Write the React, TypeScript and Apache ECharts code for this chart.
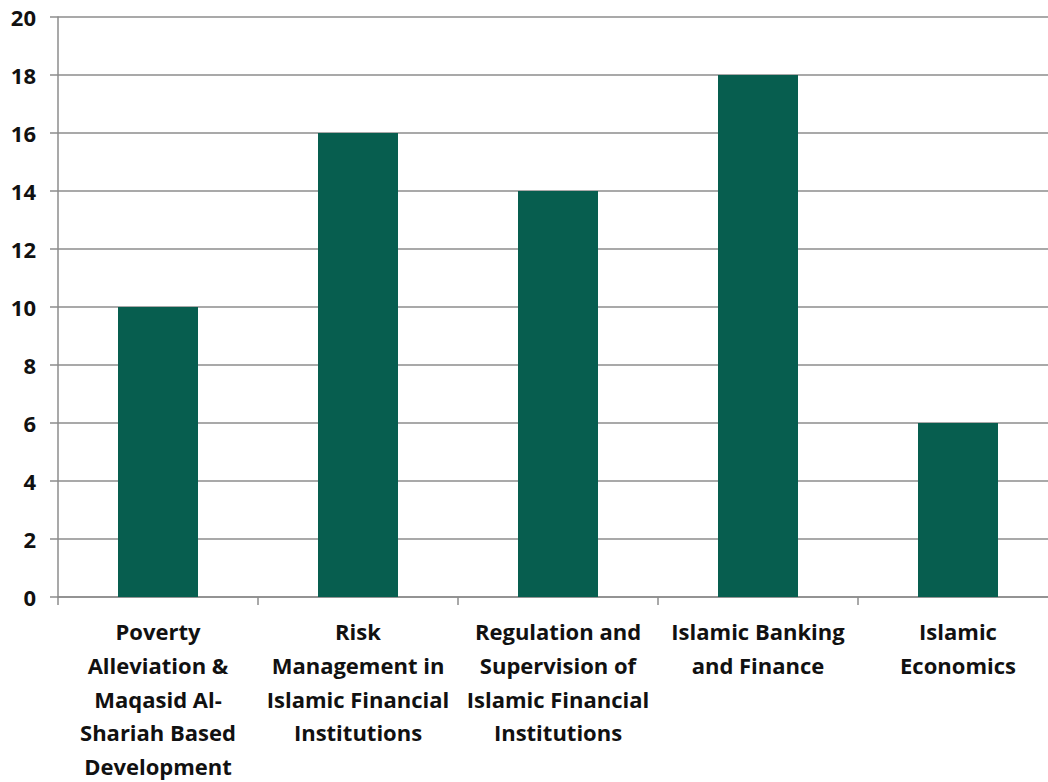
import React, { useEffect, useRef } from "react";
import * as echarts from "echarts";

const categories = [
  "Poverty\nAlleviation &\nMaqasid Al-\nShariah Based\nDevelopment",
  "Risk\nManagement in\nIslamic Financial\nInstitutions",
  "Regulation and\nSupervision of\nIslamic Financial\nInstitutions",
  "Islamic Banking\nand Finance",
  "Islamic\nEconomics",
];
const values = [10, 16, 14, 18, 6];
const yMin = 0;
const yMax = 20;
const yStep = 2;

export default function App() {
  const ref = useRef<HTMLDivElement>(null);
  useEffect(() => {
    document.body.style.margin = "0";
    const chart = echarts.init(ref.current!, null, { renderer: "svg" });
    const font = "'Open Sans', sans-serif";
    chart.setOption({
      animation: false,
      backgroundColor: "#ffffff",
      grid: {
        left: 58,
        top: 17,
        width: 1000,
        height: 580,
        containLabel: false,
        outerBoundsMode: "none",
      },
      xAxis: {
        type: "category",
        data: categories,
        axisLine: { show: true, lineStyle: { color: "#8c8c8c", width: 1.5 } },
        axisTick: { show: true, length: 8, lineStyle: { color: "#8c8c8c", width: 1.5 } },
        axisLabel: {
          interval: 0,
          margin: 17,
          color: "#111111",
          fontFamily: font,
          fontWeight: "bold",
          fontSize: 22,
          lineHeight: 33.8,
          align: "center",
        },
      },
      yAxis: {
        type: "value",
        min: yMin,
        max: yMax,
        interval: yStep,
        axisLine: { show: true, lineStyle: { color: "#8c8c8c", width: 1.5 } },
        axisTick: { show: true, length: 8, lineStyle: { color: "#8c8c8c", width: 1.5 } },
        splitLine: { show: true, lineStyle: { color: "#8c8c8c", width: 1.5 } },
        axisLabel: {
          margin: 22,
          color: "#111111",
          fontFamily: font,
          fontWeight: "bold",
          fontSize: 22,
        },
      },
      series: [
        {
          type: "bar",
          data: values,
          barWidth: "40%",
          itemStyle: { color: "#075E4F" },
        },
      ],
    });
    return () => chart.dispose();
  }, []);
  return <div ref={ref} style={{ width: 1048, height: 782 }} />;
}
